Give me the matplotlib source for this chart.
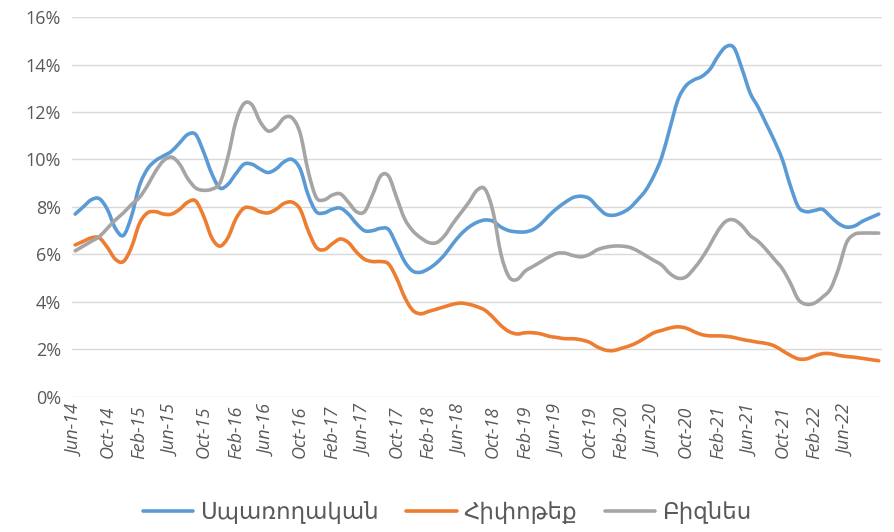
import pandas as pd
import matplotlib.pyplot as plt
from matplotlib.path import Path
from matplotlib.patches import PathPatch

plt.rcParams['font.family'] = ['Open Sans', 'DejaVu Sans']

# monthly, Jun-2014 .. Oct-2022
months = pd.date_range("2014-06-01", "2022-10-01", freq="MS")

consumer = [
    7.7, 8.0, 8.3, 8.35, 7.9, 7.1, 6.8, 7.6, 8.9, 9.6,
    9.95, 10.15, 10.35, 10.7, 11.05, 11.05, 10.3, 9.4, 8.8, 8.95,
    9.4, 9.8, 9.8, 9.6, 9.45, 9.6, 9.9, 10.0, 9.6, 8.5,
    7.8, 7.75, 7.9, 7.95, 7.7, 7.3, 7.0, 7.0, 7.1, 7.05,
    6.4, 5.7, 5.3, 5.25, 5.4, 5.65, 6.0, 6.45, 6.85, 7.15,
    7.35, 7.45, 7.4, 7.15, 7.0, 6.95, 6.95, 7.05, 7.3, 7.65,
    7.95, 8.2, 8.4, 8.45, 8.35, 8.0, 7.7, 7.65, 7.75, 7.95,
    8.3, 8.7, 9.3, 10.1, 11.3, 12.5, 13.1, 13.35, 13.5, 13.8,
    14.35, 14.75, 14.7, 13.8, 12.8, 12.2, 11.5, 10.8, 10.0, 8.9,
    8.0, 7.8, 7.85, 7.9, 7.6, 7.3, 7.15, 7.2, 7.4, 7.55,
    7.7,
]

mortgage = [
    6.4, 6.55, 6.7, 6.7, 6.3, 5.8, 5.7, 6.3, 7.3, 7.75,
    7.8, 7.7, 7.7, 7.9, 8.2, 8.25, 7.6, 6.7, 6.35, 6.7,
    7.5, 7.95, 7.95, 7.8, 7.75, 7.9, 8.15, 8.2, 7.9, 7.0,
    6.3, 6.2, 6.45, 6.65, 6.5, 6.1, 5.8, 5.7, 5.7, 5.6,
    5.0, 4.2, 3.65, 3.5, 3.6, 3.7, 3.8, 3.9, 3.95, 3.9,
    3.8, 3.65, 3.35, 3.0, 2.75, 2.65, 2.7, 2.7, 2.65, 2.55,
    2.5, 2.45, 2.45, 2.4, 2.3, 2.1, 1.97, 1.95, 2.05, 2.15,
    2.3, 2.5, 2.7, 2.8, 2.9, 2.95, 2.9, 2.75, 2.62, 2.57,
    2.57, 2.55, 2.5, 2.42, 2.36, 2.3, 2.25, 2.15, 1.95, 1.75,
    1.6, 1.6, 1.72, 1.82, 1.82, 1.75, 1.7, 1.67, 1.62, 1.57,
    1.52,
]

business = [
    6.15, 6.35, 6.55, 6.75, 7.1, 7.45, 7.75, 8.1, 8.4, 8.9,
    9.5, 9.95, 10.1, 9.8, 9.2, 8.8, 8.7, 8.75, 9.0, 10.1,
    11.6, 12.35, 12.3, 11.6, 11.2, 11.35, 11.75, 11.75, 11.1, 9.5,
    8.4, 8.3, 8.5, 8.55, 8.2, 7.8, 7.8, 8.5, 9.3, 9.3,
    8.4, 7.5, 7.0, 6.7, 6.5, 6.5, 6.8, 7.3, 7.75, 8.2,
    8.7, 8.75, 7.8, 6.0, 5.05, 4.95, 5.3, 5.5, 5.7, 5.9,
    6.05, 6.05, 5.95, 5.9, 6.0, 6.2, 6.3, 6.35, 6.35, 6.3,
    6.15, 5.95, 5.75, 5.55, 5.2, 5.0, 5.05, 5.4, 5.85, 6.4,
    7.0, 7.4, 7.45, 7.2, 6.8, 6.55, 6.2, 5.8, 5.4, 4.8,
    4.1, 3.9, 3.95, 4.2, 4.55, 5.4, 6.5, 6.85, 6.9, 6.9,
    6.9,
]

series_names = ["Սպառողական", "Հիփոթեք", "Բիզնես"]
colors = ["#5B9BD5", "#ED7D31", "#A5A5A5"]


def smooth_path(xs, ys):
    # Excel-style smoothed line: Catmull-Rom segments as cubic Beziers
    pts = list(zip(xs, ys))
    n = len(pts)
    verts = [pts[0]]
    codes = [Path.MOVETO]
    for i in range(n - 1):
        p0 = pts[max(i - 1, 0)]
        p1 = pts[i]
        p2 = pts[i + 1]
        p3 = pts[min(i + 2, n - 1)]
        c1 = (p1[0] + (p2[0] - p0[0]) / 6, p1[1] + (p2[1] - p0[1]) / 6)
        c2 = (p2[0] - (p3[0] - p1[0]) / 6, p2[1] - (p3[1] - p1[1]) / 6)
        verts += [c1, c2, p2]
        codes += [Path.CURVE4] * 3
    return Path(verts, codes)


x = list(range(len(months)))
tick_pos = x[:97:4]
tick_labels = [months[i].strftime("%b-%y") for i in tick_pos]

fig = plt.figure(figsize=(8.94, 5.32), dpi=100)
ax = fig.add_axes([0.0805, 0.254, 0.906, 0.714])

for vals, name, c in zip([consumer, mortgage, business], series_names, colors):
    ax.add_patch(PathPatch(smooth_path(x, vals), fill=False, edgecolor=c,
                           lw=2.6, joinstyle="round", capstyle="round"))
    ax.plot([], [], color=c, lw=2.6, label=name, solid_capstyle="round")

ax.set_ylim(0, 16)
ax.set_xlim(-0.4, len(x) - 0.6)
ax.set_yticks(range(0, 17, 2))
ax.set_yticklabels([f"{v}%" for v in range(0, 17, 2)])
ax.set_xticks(tick_pos)
ax.set_xticklabels(tick_labels, rotation=90, style="italic")
ax.tick_params(axis="both", length=0, colors="#595959")
ax.tick_params(axis="x", pad=6, labelsize=13)
ax.tick_params(axis="y", pad=8, labelsize=13)
ax.grid(axis="y", color="#D9D9D9", lw=1)
ax.set_axisbelow(True)
for s in ax.spines.values():
    s.set_visible(False)

fig.legend(loc="lower center", bbox_to_anchor=(0.5, -0.025), ncol=3,
           frameon=False, fontsize=16.5, handlelength=2.2, columnspacing=1.2,
           handletextpad=0.3, labelcolor="#595959")

fig.savefig("out.png")
